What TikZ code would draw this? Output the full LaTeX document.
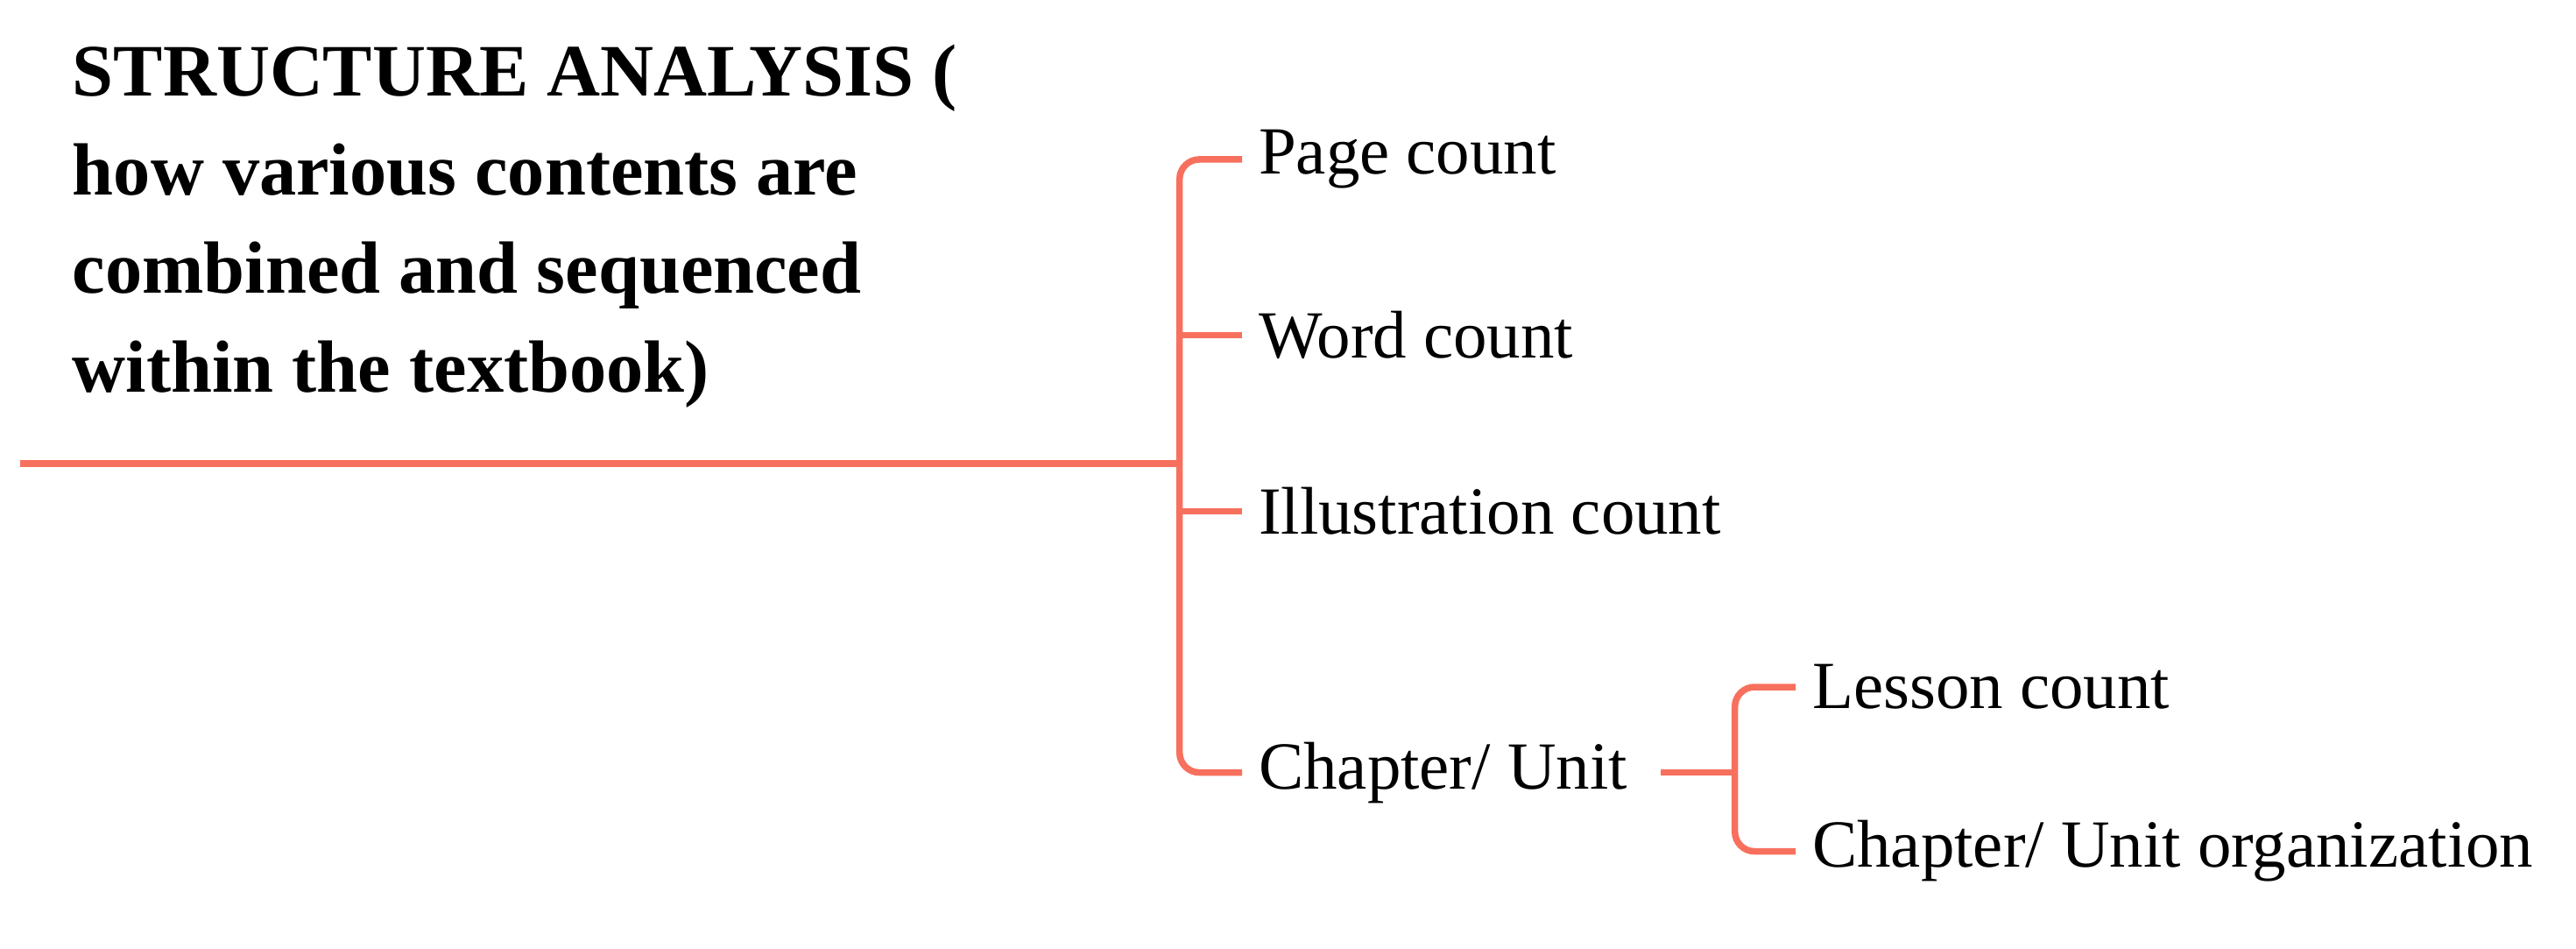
\documentclass[tikz,border=0pt]{standalone}
\usepackage{fontspec}
\setmainfont{Liberation Serif}
\definecolor{br}{HTML}{F7705E}
\begin{document}
\begin{tikzpicture}[x=1pt,y=-1pt,
  ln/.style={draw=br,line width=4pt,rounded corners=12pt},
  lbl/.style={anchor=west,font=\fontsize{41}{46}\selectfont,inner sep=0pt}]
\useasboundingbox (0,0) rectangle (1568,577);
\node[anchor=north west,align=left,font=\bfseries\fontsize{45}{60}\selectfont,inner sep=0pt] (title) at (44,27)
 {STRUCTURE ANALYSIS (\\how various contents are\\combined and sequenced\\within the textbook)};
\coordinate (s) at (12,282);
\coordinate (j) at (718,282);
\node[lbl] (p) at (766,97) {Page count};
\node[lbl] (w) at (766,204) {Word count};
\node[lbl] (i) at (766,311) {Illustration count};
\node[lbl] (c) at (766,470) {Chapter/ Unit};
\node[lbl] (l) at (1103,418) {Lesson count};
\node[lbl] (o) at (1103,518) {Chapter/ Unit organization};
\draw[ln,rounded corners=0pt] (s) -- (j);
\draw[ln] (p.west) ++(-10,0) -- (718,97) -- (718,470) -- ([xshift=-10pt]c.west);
\draw[ln] (718,204) -- ([xshift=-10pt]w.west);
\draw[ln] (718,311) -- ([xshift=-10pt]i.west);
\draw[ln] ([xshift=-10pt]l.west) -- (1056,418) -- (1056,518) -- ([xshift=-10pt]o.west);
\draw[ln,rounded corners=0pt] ([xshift=20pt]c.east) -- (1056,470);
\end{tikzpicture}
\end{document}
